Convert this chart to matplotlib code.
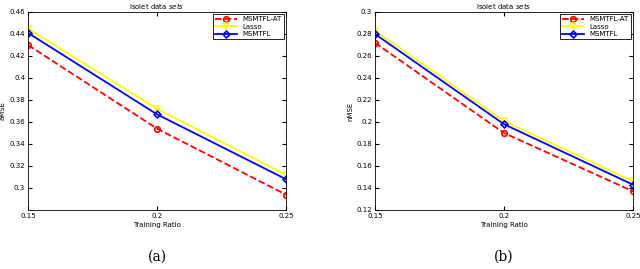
import matplotlib
matplotlib.use("Agg")
import matplotlib.pyplot as plt

# donnees
ratio = [0.15, 0.2, 0.25]
amse_at = [0.430, 0.354, 0.294]
amse_lasso = [0.445, 0.372, 0.312]
amse_msmtfl = [0.441, 0.367, 0.308]
nmse_at = [0.272, 0.190, 0.137]
nmse_lasso = [0.283, 0.201, 0.146]
nmse_msmtfl = [0.280, 0.198, 0.143]

plt.rcParams['font.family'] = ['DejaVu Sans']
fig = plt.figure(figsize=(6.4, 2.69), dpi=100)

paineis = [
    ([28/640, 59/269, 258/640, 198/269], amse_at, amse_lasso, amse_msmtfl, 'aMSE',
     (0.28, 0.46), [0.3, 0.32, 0.34, 0.36, 0.38, 0.4, 0.42, 0.44, 0.46], '(a)'),
    ([375/640, 59/269, 258/640, 198/269], nmse_at, nmse_lasso, nmse_msmtfl, 'nMSE',
     (0.12, 0.3), [0.12, 0.14, 0.16, 0.18, 0.2, 0.22, 0.24, 0.26, 0.28, 0.3], '(b)'),
]

for pos, at, lasso, ms, ylab, ylim, yt, cap in paineis:
    ax = fig.add_axes(pos)
    ax.plot(ratio, at, 'r--o', lw=1.3, ms=4, mfc='none', mew=1.2, label='MSMTFL-AT')
    ax.plot(ratio, lasso, color='yellow', marker='v', lw=1.3, ms=4, mfc='none', mew=1.2, label='Lasso')
    ax.plot(ratio, ms, 'b-D', lw=1.3, ms=3.5, mfc='none', mew=1.2, label='MSMTFL')
    ax.set_xlim(0.15, 0.25)
    ax.set_ylim(*ylim)
    ax.set_xticks(ratio)
    ax.set_xticklabels(['0.15', '0.2', '0.25'])
    ax.set_yticks(yt)
    ax.set_yticklabels(['%g' % v for v in yt])
    ax.tick_params(labelsize=5, direction='in', length=3, top=True, right=True, pad=2)
    ax.set_xlabel('Training Ratio', fontsize=5, labelpad=2)
    ax.set_ylabel(ylab, fontsize=5)
    ax.yaxis.set_label_coords(-0.085, 0.5)
    ax.set_title('Isolet data $sets$', fontsize=5, pad=2)
    for s in ax.spines.values():
        s.set_linewidth(0.6)
    leg = ax.legend(loc='upper right', fontsize=5, fancybox=False, framealpha=1,
                    edgecolor='black', handlelength=3.2, borderpad=0.3, labelspacing=0.2,
                    borderaxespad=0.3)
    leg.get_frame().set_linewidth(0.6)
    fig.text(pos[0] + pos[2] / 2, 12/269, cap, ha='center', va='center',
             fontsize=10, family='DejaVu Serif')

fig.savefig('out.png', dpi=100)
